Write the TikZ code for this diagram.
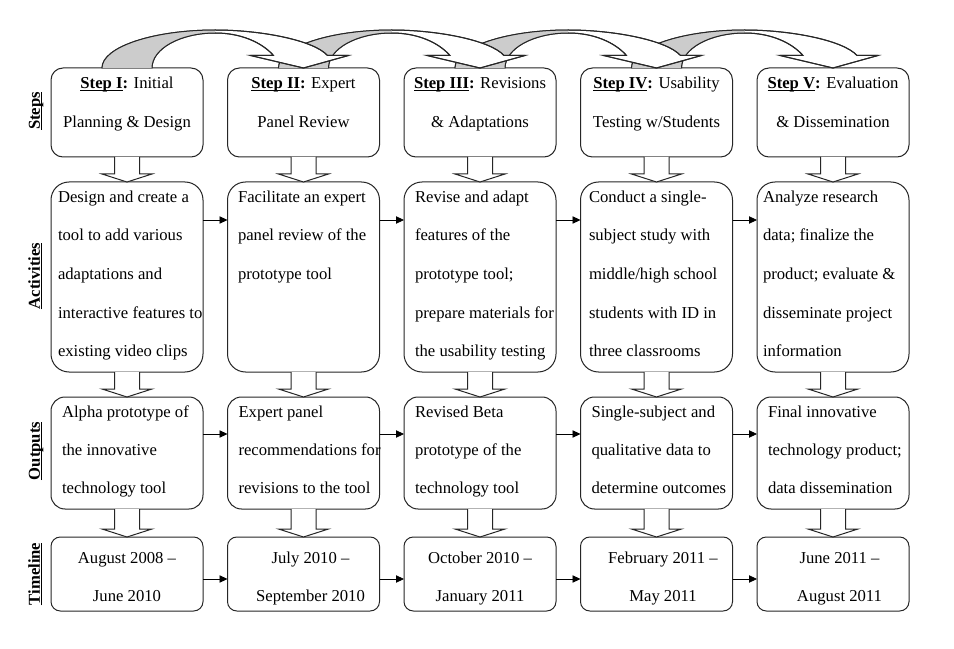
\documentclass[tikz,border=0pt]{standalone}
\usepackage{fontspec}
\setmainfont{Liberation Serif}
\usetikzlibrary{calc,arrows.meta}
\newcommand\myul[1]{\setbox0\hbox{#1}\rlap{\rule[-1.7pt]{\wd0}{0.6pt}}\box0}
\newcommand\fl{\rule{0pt}{9pt}}
\newcommand\curvarr[2]{%
  \filldraw[fill=white,draw=black!85,line width=0.75pt] let \p1=(#1.north), \p2=(#2.north), \p3=($(\p1)!0.5!(\p2)$) in
    (\x1-18.75pt,\y1) .. controls (\x1-18.75pt,\y1+15.75pt) and (\x3-46.5pt,\y1+28.5pt) .. (\x3,\y1+28.5pt)
    .. controls (\x3+33.75pt,\y1+28.5pt) and (\x2+7.5pt,\y1+21pt) .. (\x2+18pt,\y1+9.375pt)
    -- (\x2+33.75pt,\y1+9.375pt) -- (\x2,\y2) -- (\x2-39.75pt,\y1+9.375pt) -- (\x2-22.5pt,\y1+9.375pt)
    .. controls (\x2-31.5pt,\y1+19.5pt) and (\x3+18.75pt,\y1+26.25pt) .. (\x3,\y1+26.25pt)
    .. controls (\x3-26.25pt,\y1+26.25pt) and (\x1+18.75pt,\y1+14.5pt) .. (\x1+18.75pt,\y1) -- cycle;
  \fill[gray!40] let \p1=(#1.north), \p2=(#2.north), \p3=($(\p1)!0.5!(\p2)$) in
    (\x1-18.75pt,\y1) .. controls (\x1-18.75pt,\y1+15.75pt) and (\x3-46.5pt,\y1+28.5pt) .. (\x3,\y1+28.5pt)
    -- (\x3,\y1+26.25pt) .. controls (\x3-26.25pt,\y1+26.25pt) and (\x1+18.75pt,\y1+14.5pt) .. (\x1+18.75pt,\y1) -- cycle;
  \draw[draw=black!85,line width=0.75pt,line join=round] let \p1=(#1.north), \p2=(#2.north), \p3=($(\p1)!0.5!(\p2)$) in
    (\x1-18.75pt,\y1) .. controls (\x1-18.75pt,\y1+15.75pt) and (\x3-46.5pt,\y1+28.5pt) .. (\x3,\y1+28.5pt)
    .. controls (\x3+33.75pt,\y1+28.5pt) and (\x2+7.5pt,\y1+21pt) .. (\x2+18pt,\y1+9.375pt)
    -- (\x2+33.75pt,\y1+9.375pt) -- (\x2,\y2) -- (\x2-39.75pt,\y1+9.375pt) -- (\x2-22.5pt,\y1+9.375pt)
    .. controls (\x2-31.5pt,\y1+19.5pt) and (\x3+18.75pt,\y1+26.25pt) .. (\x3,\y1+26.25pt)
    .. controls (\x3-26.25pt,\y1+26.25pt) and (\x1+18.75pt,\y1+14.5pt) .. (\x1+18.75pt,\y1);
}
\newcommand\blockdown[2]{%
  \filldraw[fill=white,draw=black!85,line width=0.75pt] let \p1=(#1.south), \p2=(#2.north) in
    (\x1-9.375pt,\y1) -- (\x1-9.375pt,\y2+6pt) -- (\x1-18.75pt,\y2+6pt) -- (\x1,\y2)
    -- (\x1+18.75pt,\y2+6pt) -- (\x1+9.375pt,\y2+6pt) -- (\x1+9.375pt,\y1);
}
\begin{document}
\begin{tikzpicture}[x=0.75pt,y=-0.75pt,
  box/.style={draw=black!85,line width=0.75pt,fill=white,inner sep=0pt,outer sep=0pt,minimum width=114pt,anchor=north west},
  stepbox/.style={box,rounded corners=9pt,minimum height=66.75pt},
  actbox/.style={box,rounded corners=13.5pt,minimum height=142.5pt},
  outbox/.style={box,rounded corners=10.5pt,minimum height=84pt},
  timebox/.style={box,rounded corners=7pt,minimum height=55.5pt},
  stxt/.style={inner sep=0pt,outer sep=0pt,align=center,anchor=north,font=\fontsize{12.5}{29.25}\selectfont},
  atxt/.style={inner sep=0pt,outer sep=0pt,align=left,anchor=north west,font=\fontsize{12.5}{29}\selectfont},
  otxt/.style={inner sep=0pt,outer sep=0pt,align=left,anchor=north west,font=\fontsize{12.5}{28.5}\selectfont},
  ttxt/.style={inner sep=0pt,outer sep=0pt,align=center,anchor=north,font=\fontsize{12.5}{28.5}\selectfont},
  lbl/.style={inner sep=0pt,rotate=90,anchor=base,font=\fontsize{12.5}{14}\selectfont\bfseries},
  harr/.style={draw=black,line width=0.6pt,-{Triangle[length=6pt,width=5.5pt]}}]
\useasboundingbox[fill=white] (0,0) rectangle (954,649);

% left labels
\node[lbl] (Lsteps) at (40,111) {\myul{Steps}};
\node[lbl] (Lact) at (40,276) {\myul{Activities}};
\node[lbl] (Lout) at (40,451) {\myul{Outputs}};
\node[lbl] (Ltime) at (40,574) {\myul{Timeline}};

% boxes
\node[stepbox] (s1) at (51,68) {};
\node[stepbox] (s2) at (227.5,68) {};
\node[stepbox] (s3) at (404,68) {};
\node[stepbox] (s4) at (580.5,68) {};
\node[stepbox] (s5) at (757,68) {};
\node[actbox] (a1) at (51,182) {};
\node[actbox] (a2) at (227.5,182) {};
\node[actbox] (a3) at (404,182) {};
\node[actbox] (a4) at (580.5,182) {};
\node[actbox] (a5) at (757,182) {};
\node[outbox] (o1) at (51,397) {};
\node[outbox] (o2) at (227.5,397) {};
\node[outbox] (o3) at (404,397) {};
\node[outbox] (o4) at (580.5,397) {};
\node[outbox] (o5) at (757,397) {};
\node[timebox] (t1) at (51,537) {};
\node[timebox] (t2) at (227.5,537) {};
\node[timebox] (t3) at (404,537) {};
\node[timebox] (t4) at (580.5,537) {};
\node[timebox] (t5) at (757,537) {};

% texts
\node[stxt] (s1x) at (127,77) {\fl\textbf{\myul{Step I}:} Initial\\Planning \& Design};
\node[stxt] (s2x) at (303.5,77) {\fl\textbf{\myul{Step II}:} Expert\\Panel Review};
\node[stxt] (s3x) at (480,77) {\fl\textbf{\myul{Step III}:} Revisions\\\& Adaptations};
\node[stxt] (s4x) at (656.5,77) {\fl\textbf{\myul{Step IV}:} Usability\\Testing w/Students};
\node[stxt] (s5x) at (833,77) {\fl\textbf{\myul{Step V}:} Evaluation\\\& Dissemination};

\node[atxt] (a1x) at (58,190) {\fl Design and create a\\tool to add various\\adaptations and\\interactive features to\\existing video clips};
\node[atxt] (a2x) at (238,190) {\fl Facilitate an expert\\panel review of the\\prototype tool};
\node[atxt] (a3x) at (415,190) {\fl Revise and adapt\\features of the\\prototype tool;\\prepare materials for\\the usability testing};
\node[atxt] (a4x) at (589,190) {\fl Conduct a single-\\subject study with\\middle/high school\\students with ID in\\three classrooms};
\node[atxt] (a5x) at (763,190) {\fl Analyze research\\data; finalize the\\product; evaluate \&\\disseminate project\\information};

\node[otxt] (o1x) at (62,405) {\fl Alpha prototype of\\the innovative\\technology tool};
\node[otxt] (o2x) at (238.5,405) {\fl Expert panel\\recommendations for\\revisions to the tool};
\node[otxt] (o3x) at (415,405) {\fl Revised Beta\\prototype of the\\technology tool};
\node[otxt] (o4x) at (591.5,405) {\fl Single-subject and\\qualitative data to\\determine outcomes};
\node[otxt] (o5x) at (768,405) {\fl Final innovative\\technology product;\\data dissemination};

\node[ttxt] (t1x) at (127,551) {\fl August 2008 –\\June 2010};
\node[ttxt] (t2x) at (310.5,551) {\fl July 2010 –\\September 2010};
\node[ttxt] (t3x) at (480,551) {\fl October 2010 –\\January 2011};
\node[ttxt] (t4x) at (663,551) {\fl February 2011 –\\May 2011};
\node[ttxt] (t5x) at (839.5,551) {\fl June 2011 –\\August 2011};

% down block arrows
\foreach \i in {1,...,5}{
  \blockdown{s\i}{a\i}
  \blockdown{a\i}{o\i}
  \blockdown{o\i}{t\i}
}

% horizontal arrows
\coordinate (ra) at (0,220);
\coordinate (ro) at (0,434);
\coordinate (rt) at (0,579);
\foreach \i/\j in {1/2,2/3,3/4,4/5}{
  \draw[harr] (a\i.east |- ra) -- (a\j.west |- ra);
  \draw[harr] (o\i.east |- ro) -- (o\j.west |- ro);
  \draw[harr] (t\i.east |- rt) -- (t\j.west |- rt);
}

% curved arrows on top
\curvarr{s4}{s5}
\curvarr{s3}{s4}
\curvarr{s2}{s3}
\curvarr{s1}{s2}
\end{tikzpicture}
\end{document}
